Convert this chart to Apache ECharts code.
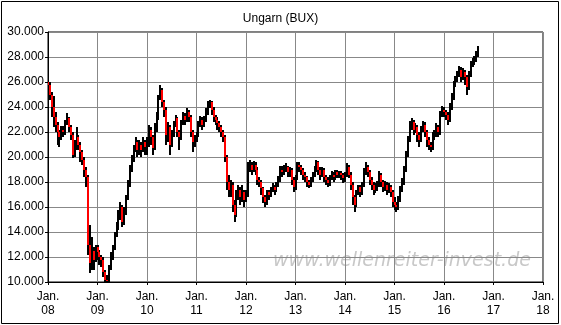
<!DOCTYPE html>
<html><head><meta charset="utf-8">
<script src="https://cdn.jsdelivr.net/npm/echarts@6/dist/echarts.min.js"></script>
<style>html,body{margin:0;padding:0;background:#fff}#c{width:561px;height:325px}</style>
</head><body><div id="c"></div>
<script>
// Year tick labels (Jan. of each year)
var yearLabels = ['08','09','10','11','12','13','14','15','16','17','18'];
var periodsPerYear = 26; // bi-weekly periods
// Bi-weekly closing values, Jan 2008 .. Sep 2016
var closeVals = [
25800,25000,24000,23200,22600,22000,21600,22200,22000,22800,
23100,22400,21800,20200,20800,21600,21000,20400,19800,19000,
18400,13000,11500,12500,11800,12800,12400,12000,11800,10800,
10200,10100,11200,12200,12700,13800,14500,15400,16000,14800,
15600,16800,17800,19000,19800,20600,21200,20600,21000,20600,
21200,20800,21000,22200,21600,20700,22400,23200,24800,25400,
24400,23800,21800,22400,21000,21900,22600,23100,22000,21600,
22800,23300,23000,23600,23200,22000,21200,21600,21800,22600,
23000,22600,23000,23600,24200,24400,23800,23200,23000,22700,
22400,22000,21600,20000,18000,17400,17800,16200,15400,17000,
17400,16800,17200,16600,17000,19200,19400,19000,19400,19000,
18200,18000,17500,16800,16400,17200,17000,17400,17600,17400,
17800,18200,19000,18800,19000,19200,18800,19000,18200,17600,
18400,19400,19200,19000,18600,18400,18000,17800,18200,18600,
19000,19600,19000,18600,19000,18400,18200,17900,18400,18600,
18400,18800,18600,18700,18600,18300,18600,19200,18600,17800,
16800,16200,17200,17600,17200,17800,18800,19200,18800,18200,
17800,17400,17600,17800,18600,18000,17600,17800,17400,17600,
17200,16400,16200,16000,16600,17400,18000,19000,20200,21400,
22600,22800,22200,22400,21800,21400,22200,22600,22000,21400,
21000,20800,21800,21800,22400,22000,23400,23800,23600,23400,
23000,24000,24800,25800,26200,26600,27000,26400,26800,26400,
25600,26600,27400,27600,27800,28200,28600];
var lowVals = [
25200,24600,23200,22400,22000,21000,20800,21400,21600,21800,
22600,22000,21400,19900,20000,20600,20600,19600,19400,18400,
17600,12200,10700,11000,11000,11600,11800,11400,11200,10400,
9800,9700,9900,11000,11800,12600,13600,14200,15000,14400,
14600,15400,16600,17600,18800,19600,20400,20000,20200,20000,
20400,20200,20200,20800,21000,20200,20600,22000,23000,24600,
24000,23200,21000,21200,20200,20800,21600,22400,21600,20600,
21400,22600,22600,22800,22800,21600,20400,20800,21200,21600,
22400,22200,22400,22800,23400,23900,23400,22800,22600,22200,
22000,21600,21200,19600,17400,16800,16800,15600,14800,15200,
16600,16200,16400,16000,16400,16800,18800,18600,18800,18600,
17800,17600,17000,16300,16000,16200,16600,16800,17200,17000,
17200,17600,18000,18400,18600,18800,18400,18400,17800,17200,
17400,18200,18800,18600,18200,18000,17600,17500,17600,18000,
18400,18800,18600,18200,18400,18000,17800,17600,17700,18200,
18000,18200,18300,18300,18200,17900,18000,18400,18300,17400,
16200,15600,16000,17000,16800,17000,17600,18600,18400,17800,
17400,17000,17100,17300,17600,17600,17200,17300,17000,17100,
16800,16000,15800,15600,15800,16400,17200,17800,18800,20000,
21200,22200,21800,21900,21200,20800,21200,22000,21600,20800,
20600,20400,20600,21400,21600,21600,21800,23200,23200,23000,
22600,22800,23800,24600,25600,26000,26400,26000,26200,25800,
25000,25400,26400,27200,27400,27600,28000];
var highVals = [
26300,26000,25200,24900,23600,22800,22200,22500,22500,23000,
23500,23200,22600,22000,21400,22400,21800,21200,20600,20000,
19200,18600,14600,13600,12800,13000,13000,12600,12200,12000,
11000,10600,11400,12400,13000,14000,14800,15800,16400,16200,
16000,17000,18200,19400,20200,21000,21600,21400,21400,21200,
21600,21400,21600,22600,22400,21800,22700,23600,25000,25800,
25500,24600,24000,22800,22600,22200,22900,23400,23200,22200,
23000,23600,23500,23900,23800,23400,22200,21800,22000,22900,
23300,23200,23300,23900,24500,24600,24500,24000,23400,23200,
22900,22600,22200,21800,20200,18600,18200,18000,16600,17400,
17800,17600,17800,17400,17400,19600,19800,19600,19700,19600,
19200,18400,18200,17600,17000,17400,17400,17600,17900,17800,
18000,18500,19300,19300,19400,19500,19300,19200,19100,18400,
18600,19600,19600,19400,19100,18800,18500,18200,18400,18800,
19300,19800,19700,19200,19200,19100,18600,18400,18600,18900,
18800,19000,19000,18900,18900,18700,18800,19500,19400,18800,
18000,17000,17400,17800,17800,18000,19100,19600,19400,19000,
18400,18000,17900,18100,18900,18700,18200,18100,18000,17900,
17800,17400,16800,16400,16900,17700,18300,19300,20500,21700,
22900,23100,23000,22700,22600,22000,22500,22900,22800,22200,
21600,21200,22000,22200,22700,22600,23700,24100,24000,23800,
23600,24300,25100,26100,26500,26900,27300,27200,27100,27000,
26600,26900,27700,27900,28100,28500,28900];
var firstOpen = 26000;

// categories: one per bi-weekly period, Jan 08 .. Jan 18
var cats = [];
for (var y = 0; y < yearLabels.length - 1; y++) {
  for (var p = 0; p < periodsPerYear; p++) cats.push(yearLabels[y] + '-' + p);
}
cats.push(yearLabels[yearLabels.length - 1] + '-0');

// [index, open, close, low, high]
var ohlc = [];
for (var i = 0; i < closeVals.length; i++) {
  ohlc.push([i, i === 0 ? firstOpen : closeVals[i - 1], closeVals[i], lowVals[i], highVals[i]]);
}

var FONT = 'Liberation Sans, Arial, sans-serif';
var isTick = function (idx) { return idx % periodsPerYear === 0; };

function clipTo(cs, r) {
  return echarts.graphic.clipRectByRect(r, {x: cs.x, y: cs.y, width: cs.width, height: cs.height});
}
function renderRange(params, api) {
  var idx = api.value(0), l = api.value(3), h = api.value(4);
  var pH = api.coord([idx, h]), pL = api.coord([idx, l]);
  var x = Math.round(pH[0]) - 1;
  var yTop = Math.round(pH[1]), yBot = Math.round(pL[1]);
  var rr = clipTo(params.coordSys, {x: x, y: yTop, width: 2, height: Math.max(1, yBot - yTop)});
  return rr ? {type: 'rect', shape: rr, style: {fill: '#000'}} : null;
}
function renderBody(params, api) {
  var idx = api.value(0), o = api.value(1), c = api.value(2);
  if (!(c < o)) return null;
  var pO = api.coord([idx, o]), pC = api.coord([idx, c]);
  var x = Math.round(pO[0]) - 1;
  var bt = Math.round(pO[1]), bb = Math.round(pC[1]);
  var br = clipTo(params.coordSys, {x: x, y: bt, width: 2, height: Math.max(1, bb - bt)});
  return br ? {type: 'rect', shape: br, style: {fill: '#ff0000'}} : null;
}

var chart = echarts.init(document.getElementById('c'), null, {renderer: 'canvas'});
chart.setOption({
  animation: false,
  backgroundColor: '#fff',
  title: {
    text: 'Ungarn (BUX)', left: 'center', top: 8,
    textStyle: {fontFamily: FONT, fontSize: 12, fontWeight: 'normal', color: '#000'}
  },
  graphic: [
    {type: 'rect', shape: {x: 1.5, y: 1.5, width: 557, height: 322},
     style: {fill: 'none', stroke: '#000', lineWidth: 1}, silent: true},
    {type: 'text', left: 273, top: 252, z: 0,
     style: {text: 'www.wellenreiter-invest.de', fill: '#c8c8c8',
             font: 'italic 19px DejaVu Sans, sans-serif'}}
  ],
  grid: {left: 48, right: 18, top: 32, bottom: 43, show: true,
         borderColor: '#000', borderWidth: 1, backgroundColor: 'transparent'},
  xAxis: {
    type: 'category', data: cats, boundaryGap: false,
    axisLine: {lineStyle: {color: '#000', width: 1}},
    axisTick: {show: true, length: 3, interval: isTick, lineStyle: {color: '#000'}},
    axisLabel: {
      interval: isTick, margin: 8, color: '#000', fontFamily: FONT, fontSize: 12, lineHeight: 14,
      formatter: function (v) { return 'Jan.\n' + v.split('-')[0]; }
    },
    splitLine: {show: true, interval: isTick, lineStyle: {color: '#888', width: 1}}
  },
  yAxis: {
    type: 'value', min: 10000, max: 30000, interval: 2000,
    axisLine: {show: true, lineStyle: {color: '#000', width: 1}},
    axisTick: {show: true, length: 3, lineStyle: {color: '#000'}},
    axisLabel: {margin: 4, color: '#000', fontFamily: FONT, fontSize: 12,
      formatter: function (v) { return (v / 1000).toFixed(3); }},
    splitLine: {show: true, lineStyle: {color: '#888', width: 1}}
  },
  series: [
    {type: 'custom', renderItem: renderRange, data: ohlc, z: 3,
     encode: {x: 0, y: [1, 2, 3, 4]}},
    {type: 'custom', renderItem: renderBody, data: ohlc, z: 4,
     encode: {x: 0, y: [1, 2, 3, 4]}}
  ]
});
</script></body></html>
